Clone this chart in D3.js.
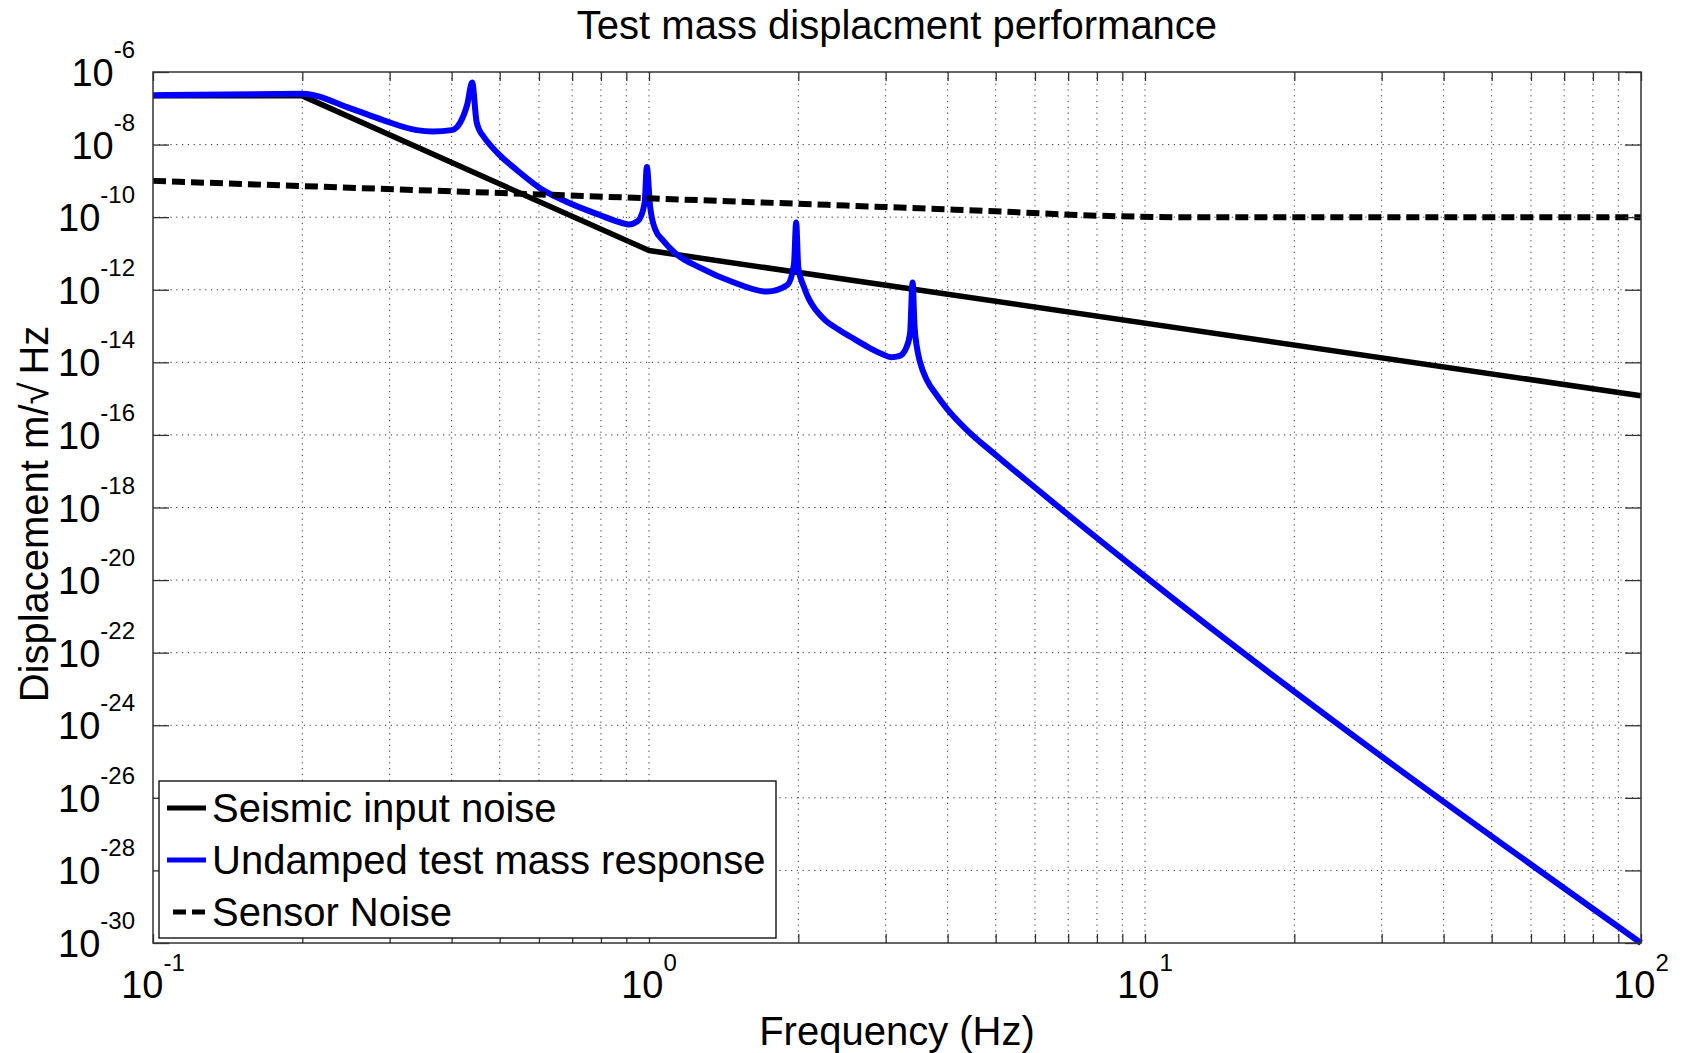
<!DOCTYPE html>
<html>
<head>
<meta charset="utf-8">
<script src="https://cdn.jsdelivr.net/npm/d3@7"></script>
<style>
  body { margin: 0; background: #fff; }
  text { font-family: "Liberation Sans", Arial, Helvetica, sans-serif; fill: #000; }
</style>
</head>
<body>
<script>
// Wrap everything in a self-executing function
(function(){

    // series values
    var seismicFreq = [0.1, 0.2, 1, 100];
    var seismicDisp = [2.2e-7, 2.2e-7, 1.2e-11, 1.2e-15];

    var sensorFreq = [0.1, 1, 3, 5, 8, 12, 100];
    var sensorDisp = [1e-9, 3.3e-10, 1.9e-10, 1.45e-10, 1.1e-10, 1e-10, 1e-10];

    var testMassFreq = [0.1, 0.2, 0.25, 0.29, 0.34, 0.367, 0.4, 0.416, 0.43, 0.44,
        0.449, 0.455, 0.464, 0.5, 0.541, 0.603, 0.68, 0.795, 0.886, 0.91, 0.95, 0.98, 0.99,
        1.005, 1.03, 1.07, 1.13, 1.27, 1.47, 1.73, 1.9, 1.96, 1.98,
        2.0, 2.05, 2.1, 2.17, 2.27, 2.4, 2.6, 2.8, 2.95, 3.08, 3.2, 3.3, 3.36, 3.4,
        3.43, 3.47, 3.52, 3.63, 3.8, 4.0, 4.37, 5.0, 6.0, 7.0, 10, 100];
    var testMassDisp = [2.3e-7, 2.5e-7, 1.0e-7, 4.8e-8, 2.5e-8, 2.3e-8, 2.5e-8, 4.0e-8, 1.26e-7, 5.1e-7,
        4.3e-8, 2.5e-8, 1.66e-8, 5.1e-9, 2.0e-9, 6.3e-10, 2.7e-10, 1.15e-10, 6.8e-11, 6.3e-11, 7.9e-11, 2.5e-10, 2.4e-9,
        2.0e-10, 4.5e-11, 2.2e-11, 1.02e-11, 4.0e-12, 1.66e-12, 8.9e-13, 1.35e-12, 5.0e-12, 7.1e-11,
        4.0e-12, 1.26e-12, 5.6e-13, 2.75e-13, 1.41e-13, 8.3e-14, 4.3e-14, 2.4e-14, 1.7e-14, 1.38e-14, 1.5e-14, 2.5e-14, 6.3e-14, 1.58e-12,
        1e-13, 2.5e-14, 1e-14, 3.3e-15, 1.26e-15, 5.0e-16, 1.38e-16, 2.8e-17, 3.55e-18, 6.3e-19, 1.26e-20, 1e-30];

    // axis ticks
    var xTickExp = [-1, 0, 1, 2];
    var yTickExp = [-6, -8, -10, -12, -14, -16, -18, -20, -22, -24, -26, -28, -30];

    var legendLabels = ["Seismic input noise", "Undamped test mass response", "Sensor Noise"];

    var width = 1686, height = 1053;
    var margin = {left: 153, right: 45, top: 72, bottom: 110};
    var plotW = width - margin.left - margin.right,
        plotH = height - margin.top - margin.bottom;

    var svg = d3.select("body")
        .append("svg")
        .attr("width", width)
        .attr("height", height);

    var x = d3.scaleLog().domain([0.1, 100]).range([margin.left, margin.left + plotW]);
    var y = d3.scaleLog().domain([1e-30, 1e-6]).range([margin.top + plotH, margin.top]);

    // minor + major x positions (1..9 per decade)
    var xAll = [];
    for (var e = -1; e < 2; e++) {
        for (var m = 1; m < 10; m++) xAll.push(m * Math.pow(10, e));
    }
    xAll.push(100);
    var yVals = yTickExp.map(d => Math.pow(10, d));

    // grid
    var grid = svg.append("g").attr("class", "grid");
    grid.selectAll(".vgrid")
        .data(xAll.filter(d => d > 0.1 && d < 100))
        .enter().append("line")
        .attr("x1", d => x(d)).attr("x2", d => x(d))
        .attr("y1", margin.top).attr("y2", margin.top + plotH);
    grid.selectAll(".hgrid")
        .data(yVals.filter((d, i) => i > 0 && i < yVals.length - 1))
        .enter().append("line")
        .attr("x1", margin.left).attr("x2", margin.left + plotW)
        .attr("y1", d => y(d)).attr("y2", d => y(d));
    grid.selectAll("line")
        .style("stroke", "#333")
        .style("stroke-width", 1)
        .style("stroke-dasharray", "1.2,4.6");

    // series
    function makeLine(curve){
        return d3.line()
            .x(d => x(d[0]))
            .y(d => y(d[1]))
            .curve(curve);
    }
    var seismic = seismicFreq.map((f, i) => [f, seismicDisp[i]]);
    var sensor = sensorFreq.map((f, i) => [f, sensorDisp[i]]);
    var testMass = testMassFreq.map((f, i) => [f, testMassDisp[i]]);

    svg.append("path")
        .datum(seismic)
        .attr("d", makeLine(d3.curveLinear))
        .style("fill", "none").style("stroke", "#000")
        .style("stroke-width", 5.5).style("stroke-linejoin", "round");

    svg.append("path")
        .datum(testMass)
        .attr("d", makeLine(d3.curveMonotoneX))
        .style("fill", "none").style("stroke", "#0000ff")
        .style("stroke-width", 6).style("stroke-linejoin", "round");

    svg.append("path")
        .datum(sensor)
        .attr("d", makeLine(d3.curveMonotoneX))
        .style("fill", "none").style("stroke", "#000")
        .style("stroke-width", 6).style("stroke-dasharray", "13,6");

    // ticks via d3 axes, pointing inward
    var tickStyle = g => {
        g.select(".domain").remove();
        g.selectAll(".tick line").style("stroke", "#333").style("stroke-width", 1.3);
        g.selectAll(".tick text").remove();
    };
    svg.append("g")
        .attr("transform", `translate(0, ${margin.top + plotH})`)
        .call(d3.axisBottom(x).tickValues(xAll).tickSize(-9).tickFormat(""))
        .call(tickStyle);
    svg.append("g")
        .attr("transform", `translate(0, ${margin.top})`)
        .call(d3.axisTop(x).tickValues(xAll).tickSize(-9).tickFormat(""))
        .call(tickStyle);
    svg.append("g")
        .attr("transform", `translate(${margin.left}, 0)`)
        .call(d3.axisLeft(y).tickValues(yVals).tickSize(-16).tickFormat(""))
        .call(tickStyle);
    svg.append("g")
        .attr("transform", `translate(${margin.left + plotW}, 0)`)
        .call(d3.axisRight(y).tickValues(yVals).tickSize(-16).tickFormat(""))
        .call(tickStyle);

    // box
    svg.append("rect")
        .attr("x", margin.left).attr("y", margin.top)
        .attr("width", plotW).attr("height", plotH)
        .style("fill", "none").style("stroke", "#333").style("stroke-width", 1.5);

    // tick labels with superscript exponents
    var xLab = svg.selectAll(".xlab")
        .data(xTickExp)
        .enter().append("text")
        .attr("x", d => x(Math.pow(10, d)))
        .attr("y", 998)
        .attr("text-anchor", "middle");
    xLab.append("tspan").style("font-size", "38px").text("10");
    xLab.append("tspan").attr("dy", -27).style("font-size", "24px").text(d => d);

    var yLab = svg.selectAll(".ylab")
        .data(yTickExp)
        .enter().append("text")
        .attr("x", 135)
        .attr("y", d => y(Math.pow(10, d)) + 14)
        .attr("text-anchor", "end");
    yLab.append("tspan").style("font-size", "38px").text("10");
    yLab.append("tspan").attr("dy", -28).style("font-size", "24px").text(d => d);

    // titles
    svg.append("text")
        .attr("x", margin.left + plotW / 2).attr("y", 39)
        .attr("text-anchor", "middle")
        .style("font-size", "40px")
        .text("Test mass displacment performance");

    svg.append("text")
        .attr("x", margin.left + plotW / 2).attr("y", 1045)
        .attr("text-anchor", "middle")
        .style("font-size", "40px")
        .text("Frequency (Hz)");

    svg.append("text")
        .attr("transform", "translate(48, 514) rotate(-90)")
        .attr("text-anchor", "middle")
        .style("font-size", "40px")
        .text("Displacement m/\u221A\u2009Hz");

    // legend
    var legend = svg.append("g").attr("class", "legend");
    legend.append("rect")
        .attr("x", 159).attr("y", 781)
        .attr("width", 617).attr("height", 157)
        .style("fill", "#fff").style("stroke", "#000").style("stroke-width", 1.3);

    var legStyles = [
        {color: "#000", dash: null, x1: 167},
        {color: "#0000ff", dash: null, x1: 167},
        {color: "#000", dash: "13,6", x1: 173}
    ];
    legendLabels.forEach((label, i) => {
        var cy = 808 + i * 52;
        legend.append("line")
            .attr("x1", legStyles[i].x1).attr("x2", 206)
            .attr("y1", cy).attr("y2", cy)
            .style("stroke", legStyles[i].color)
            .style("stroke-width", 5)
            .style("stroke-dasharray", legStyles[i].dash);
        legend.append("text")
            .attr("x", 212).attr("y", cy + 14)
            .style("font-size", "40px")
            .text(label);
    });

})();
</script>
</body>
</html>
